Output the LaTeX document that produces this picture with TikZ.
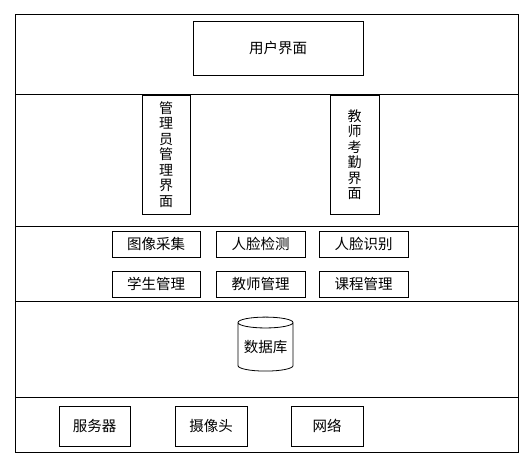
\documentclass[tikz,border=0pt]{standalone}
\usepackage{fontspec}
\setmainfont{Noto Sans CJK SC}
\usetikzlibrary{shapes.geometric, positioning}

\tikzset{
  modbox/.style={draw, thick, inner sep=0pt, font=\fontsize{14.5}{16}\selectfont},
  vbox/.style={draw, thick, inner sep=0pt, align=center, font=\fontsize{14}{15.5}\selectfont},
}

\begin{document}
\begin{tikzpicture}[x=1pt,y=-1pt]

            \useasboundingbox (0,0) rectangle (526,459);

            % Các tầng
            \draw[thick] (15,14) rectangle (518,452);
            \draw[thick] (15,94) -- (518,94);
            \draw[thick] (15,226) -- (518,226);
            \draw[thick] (15,301) -- (518,301);
            \draw[thick] (15,397) -- (518,397);

            % Giao diện
            \node[modbox, minimum width=170, minimum height=54] (ui) at (278,48) {用户界面};
            \node[vbox, minimum width=48, minimum height=119] (admin) at (166,154.5) {管\\理\\员\\管\\理\\界\\面};
            \node[vbox, minimum width=49, minimum height=119] (teacher) at (354.5,154.5) {教\\师\\考\\勤\\界\\面};

            % Chức năng
            \node[modbox, minimum width=88, minimum height=26] (capture) at (156,244) {图像采集};
            \node[modbox, minimum width=89, minimum height=26] (detect) at (260.5,244) {人脸检测};
            \node[modbox, minimum width=89, minimum height=26] (recog) at (363.5,244) {人脸识别};
            \node[modbox, minimum width=88, minimum height=26] (student) at (156,284) {学生管理};
            \node[modbox, minimum width=89, minimum height=26] (teachmgr) at (260.5,284) {教师管理};
            \node[modbox, minimum width=89, minimum height=26] (course) at (363.5,284) {课程管理};

            % Cơ sở dữ liệu
            \node[cylinder, shape border rotate=90, draw, thick, aspect=0.25,
                  minimum width=55, minimum height=54, inner sep=0pt,
                  font=\fontsize{14.5}{16}\selectfont] (db) at (265.5,347) {数据库};

            % Phần cứng
            \node[modbox, minimum width=71, minimum height=40] (server) at (94.5,426) {服务器};
            \node[modbox, minimum width=72, minimum height=40] (camera) at (211,426) {摄像头};
            \node[modbox, minimum width=72, minimum height=40] (net) at (327,426) {网络};

            \end{tikzpicture}
\end{document}
